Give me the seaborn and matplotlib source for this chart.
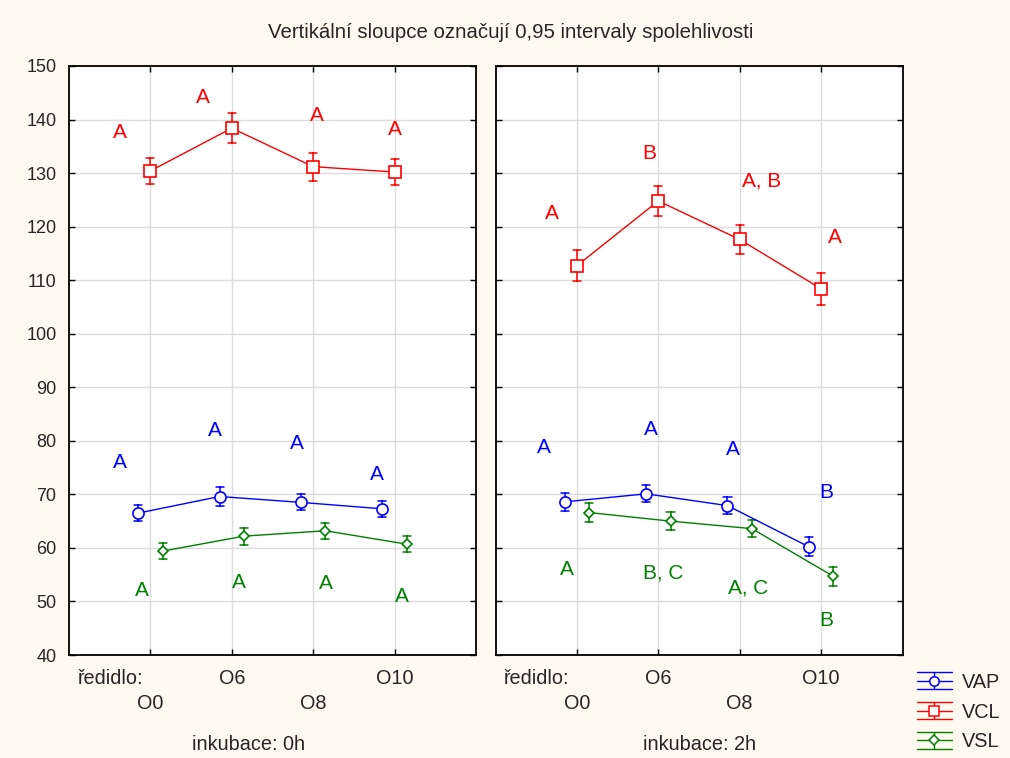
import numpy as np
import pandas as pd
import seaborn as sns
import matplotlib.pyplot as plt
from matplotlib.lines import Line2D
from matplotlib.legend_handler import HandlerBase

# ---------------- data ----------------
dilutions = ["O0", "O6", "O8", "O10"]
incubations = ["0h", "2h"]
series = ["VAP", "VCL", "VSL"]

# means
vap_0h = [66.5, 69.6, 68.5, 67.3]
vcl_0h = [130.4, 138.4, 131.2, 130.2]
vsl_0h = [59.4, 62.2, 63.2, 60.7]
vap_2h = [68.6, 70.1, 67.9, 60.2]
vcl_2h = [112.7, 124.8, 117.6, 108.4]
vsl_2h = [66.6, 65.0, 63.6, 54.7]

# 0.95 confidence interval half-widths
vap_0h_ci = [1.5, 1.7, 1.5, 1.45]
vcl_0h_ci = [2.5, 2.8, 2.6, 2.5]
vsl_0h_ci = [1.5, 1.6, 1.5, 1.5]
vap_2h_ci = [1.65, 1.6, 1.55, 1.75]
vcl_2h_ci = [2.9, 2.8, 2.75, 3.0]
vsl_2h_ci = [1.7, 1.7, 1.6, 1.8]

# significance letters
let_vap_0h = ["A", "A", "A", "A"]
let_vcl_0h = ["A", "A", "A", "A"]
let_vsl_0h = ["A", "A", "A", "A"]
let_vap_2h = ["A", "A", "A", "B"]
let_vcl_2h = ["A", "B", "A, B", "A"]
let_vsl_2h = ["A", "B, C", "A, C", "B"]

# letter placement (category offset, y position)
pos_vap_0h = ([-0.38, -0.21, -0.20, -0.22], [76.0, 81.9, 79.5, 73.8])
pos_vcl_0h = ([-0.38, -0.36, 0.04, 0.00], [137.6, 144.1, 140.8, 138.2])
pos_vsl_0h = ([-0.11, 0.09, 0.15, 0.09], [52.1, 53.6, 53.4, 50.9])
pos_vap_2h = ([-0.40, -0.09, -0.08, 0.06], [78.7, 82.1, 78.3, 70.4])
pos_vcl_2h = ([-0.31, -0.11, 0.27, 0.17], [122.5, 133.7, 128.5, 118.0])
pos_vsl_2h = ([-0.12, 0.06, 0.10, 0.06], [55.9, 55.4, 52.6, 46.4])

means = {("0h", "VAP"): vap_0h, ("0h", "VCL"): vcl_0h, ("0h", "VSL"): vsl_0h,
         ("2h", "VAP"): vap_2h, ("2h", "VCL"): vcl_2h, ("2h", "VSL"): vsl_2h}
cis = {("0h", "VAP"): vap_0h_ci, ("0h", "VCL"): vcl_0h_ci, ("0h", "VSL"): vsl_0h_ci,
       ("2h", "VAP"): vap_2h_ci, ("2h", "VCL"): vcl_2h_ci, ("2h", "VSL"): vsl_2h_ci}
letters = {("0h", "VAP"): let_vap_0h, ("0h", "VCL"): let_vcl_0h, ("0h", "VSL"): let_vsl_0h,
           ("2h", "VAP"): let_vap_2h, ("2h", "VCL"): let_vcl_2h, ("2h", "VSL"): let_vsl_2h}
letter_pos = {("0h", "VAP"): pos_vap_0h, ("0h", "VCL"): pos_vcl_0h, ("0h", "VSL"): pos_vsl_0h,
              ("2h", "VAP"): pos_vap_2h, ("2h", "VCL"): pos_vcl_2h, ("2h", "VSL"): pos_vsl_2h}

rows = []
for inc in incubations:
    for s in series:
        for d, m, e in zip(dilutions, means[(inc, s)], cis[(inc, s)]):
            for v in (m - e, m, m + e):
                rows.append({"inkubace": inc, "serie": s, "ředidlo": d, "hodnota": v})
df = pd.DataFrame(rows)

# ---------------- style ----------------
sns.set_style("white")
plt.rcParams["font.family"] = ["Liberation Sans", "DejaVu Sans"]

palette = {"VAP": "#0000FF", "VCL": "#FF0000", "VSL": "#008000"}
markers = {"VAP": "o", "VCL": "s", "VSL": "D"}
msize = {"VAP": 8.0, "VCL": 8.0, "VSL": 5.4}
bg = "#FFF9EF"

fig = plt.figure(figsize=(10.10, 7.58), dpi=100, facecolor=bg)
W, H = 1010, 758
axes = []
for left in (69, 495.5):
    ax = fig.add_axes([left / W, (H - 655) / H, 407 / W, 589 / H])
    axes.append(ax)

for ax, inc in zip(axes, incubations):
    sub = df[df["inkubace"] == inc]
    sns.pointplot(data=sub, x="ředidlo", y="hodnota", hue="serie",
                  order=dilutions, hue_order=series, palette=palette,
                  markers=[markers[s] for s in series], linestyles="-",
                  estimator="median", errorbar=("pi", 100),
                  dodge=0.3, capsize=0.1, err_kws={"linewidth": 1.1},
                  linewidth=1.0, legend=False, ax=ax)
    for ln in ax.lines:
        mk = ln.get_marker()
        if mk in ("o", "s", "D"):
            ln.set_markerfacecolor("white")
            ln.set_markeredgewidth(1.2)
            for s in series:
                if markers[s] == mk:
                    ln.set_markersize(msize[s])
            ln.set_zorder(4)

    # significance letters
    for s in series:
        xo, ys = letter_pos[(inc, s)]
        for i, (t, dx, y) in enumerate(zip(letters[(inc, s)], xo, ys)):
            ax.text(i + dx, y, t, color=palette[s], fontsize=15,
                    ha="center", va="center")

    ax.set_xlim(-1, 4)
    ax.set_ylim(40, 150)
    ax.set_yticks(np.arange(40, 151, 10))
    ax.set_facecolor("white")
    ax.grid(True, color="#DCDCDC", linewidth=1.0)
    ax.set_axisbelow(True)
    for sp in ax.spines.values():
        sp.set_visible(True)
        sp.set_color("black")
        sp.set_linewidth(1.3)
    ax.tick_params(direction="in", top=True, right=True, left=True, bottom=True,
                   length=4, width=1.0, color="black")
    ax.tick_params(axis="y", labelsize=13, pad=9)
    ax.set_xticks(range(len(dilutions)))
    labs = [("\n" + d) if i % 2 == 0 else d for i, d in enumerate(dilutions)]
    ax.set_xticklabels(labs, fontsize=14.3)
    ax.tick_params(axis="x", pad=10)
    for lab in ax.get_xticklabels():
        lab.set_linespacing(1.4)
    ax.set_xlabel("")
    ax.set_ylabel("")
    ax.text(0.02, (655 - 678) / 589, "ředidlo:", transform=ax.transAxes,
            fontsize=14.3, ha="left", va="center")

axes[1].tick_params(axis="y", labelleft=False)
axes[0].text((249 - 69) / 407, (655 - 745) / 589, "inkubace: 0h",
             transform=axes[0].transAxes, fontsize=14.3, ha="center", va="center")
axes[1].text((700 - 495.5) / 407, (655 - 745) / 589, "inkubace: 2h",
             transform=axes[1].transAxes, fontsize=14.3, ha="center", va="center")

fig.text(511 / W, 1 - 33 / H, "Vertikální sloupce označují 0,95 intervaly spolehlivosti",
         fontsize=14.7, ha="center", va="center")


class ErrHandler(HandlerBase):
    def create_artists(self, legend, orig_handle, xdescent, ydescent,
                       width, height, fontsize, trans):
        c = orig_handle.get_color()
        x0, x1 = -xdescent, width - xdescent
        xm = (x0 + x1) / 2
        cy = height / 2 - ydescent
        dy = 6.0
        arts = [Line2D([x0, x1], [y, y], color=c, lw=1.0) for y in (cy - dy, cy, cy + dy)]
        arts.append(Line2D([xm, xm], [cy - dy, cy + dy], color=c, lw=1.0))
        arts.append(Line2D([xm], [cy], marker=orig_handle.get_marker(),
                           markersize=orig_handle.get_markersize(),
                           markerfacecolor="white", markeredgecolor=c,
                           markeredgewidth=1.1, linestyle="none"))
        for a in arts:
            a.set_transform(trans)
        return arts


handles = [Line2D([], [], color=palette[s], marker=markers[s],
                  markersize=msize[s] * 0.85) for s in series]
fig.legend(handles, series, handler_map={Line2D: ErrHandler()},
           loc="center left", bbox_to_anchor=(917 / W, 1 - 712 / H),
           frameon=False, fontsize=14.3, handlelength=1.75, handletextpad=0.5,
           labelspacing=0.55, borderpad=0, borderaxespad=0)

fig.savefig("out.png", dpi=100, facecolor=bg)
